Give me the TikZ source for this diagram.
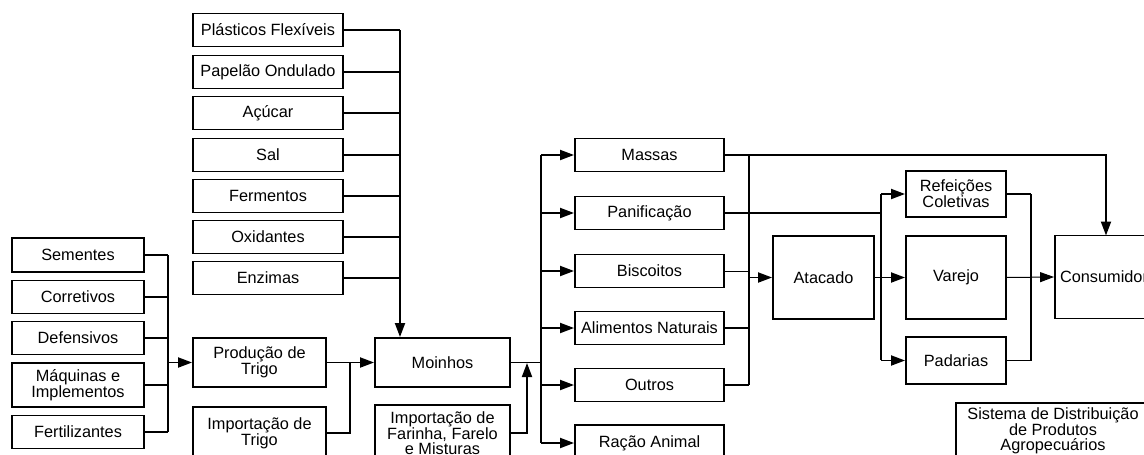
\documentclass[tikz,border=0pt]{standalone}
\usepackage{fontspec}
\setmainfont{Liberation Sans}
\usetikzlibrary{arrows.meta}
\begin{document}
\begin{tikzpicture}[x=1pt,y=-1pt,
  box/.style={draw,line width=1.9pt,rectangle,align=center,inner sep=1pt,
    font=\fontsize{16.3}{14.8}\selectfont},
  ln/.style={line width=1.9pt},
  thinln/.style={line width=1pt},
  arr/.style={-{Triangle[length=14pt,width=10pt]}}]
\useasboundingbox (0,0) rectangle (1144,455);
\clip (0,0) rectangle (1144,455);
% left column
\node[box,minimum width=132pt,minimum height=34pt] (sem) at (78,255) {Sementes};
\node[box,minimum width=132pt,minimum height=33pt] (cor) at (78,297) {Corretivos};
\node[box,minimum width=132pt,minimum height=33pt] (def) at (78,338) {Defensivos};
\node[box,minimum width=132pt,minimum height=44pt] (maq) at (78,385) {Máquinas e\\Implementos};
\node[box,minimum width=132pt,minimum height=33pt] (fer) at (78,432) {Fertilizantes};
% production
\node[box,minimum width=133pt,minimum height=49pt] (prod) at (259.5,362.5) {Produção de\\Trigo};
\node[box,minimum width=133pt,minimum height=52pt] (impT) at (259.5,433) {Importação de\\Trigo};
% top column
\node[box,minimum width=150pt,minimum height=33pt] (pla) at (268,30) {Plásticos Flexíveis};
\node[box,minimum width=150pt,minimum height=33pt] (pap) at (268,72) {Papelão Ondulado};
\node[box,minimum width=150pt,minimum height=33pt] (acu) at (268,113) {Açúcar};
\node[box,minimum width=150pt,minimum height=33pt] (sal) at (268,155) {Sal};
\node[box,minimum width=150pt,minimum height=33pt] (fem) at (268,196) {Fermentos};
\node[box,minimum width=150pt,minimum height=33pt] (oxi) at (268,237) {Oxidantes};
\node[box,minimum width=150pt,minimum height=33pt] (enz) at (268,278) {Enzimas};
% mills
\node[box,minimum width=135pt,minimum height=49pt] (moi) at (442.5,362.5) {Moinhos};
\node[box,minimum width=135pt,minimum height=56pt] (impF) at (442.5,433) {Importação de\\Farinha, Farelo\\e Misturas};
% products
\node[box,minimum width=149pt,minimum height=33pt] (mas) at (649.5,155) {Massas};
\node[box,minimum width=149pt,minimum height=33pt] (pan) at (649.5,213) {Panificação};
\node[box,minimum width=149pt,minimum height=33pt] (bis) at (649.5,271) {Biscoitos};
\node[box,minimum width=149pt,minimum height=33pt] (ali) at (649.5,328) {Alimentos Naturais};
\node[box,minimum width=149pt,minimum height=33pt] (out) at (649.5,385) {Outros};
\node[box,minimum width=149pt,minimum height=36pt] (rac) at (649.5,443) {Ração Animal};
% distribution
\node[box,minimum width=101pt,minimum height=83pt] (ata) at (823.5,277.5) {Atacado};
\node[box,minimum width=100pt,minimum height=46pt] (ref) at (956,194) {Refeições\\Coletivas};
\node[box,minimum width=100pt,minimum height=83pt] (var) at (956,277.5) {Varejo};
\node[box,minimum width=100pt,minimum height=47pt] (pad) at (956,360.5) {Padarias};
\node[box,minimum width=98pt,minimum height=83pt] (con) at (1104,277) {Consumidor};
\node[box,minimum width=194pt,minimum height=56pt] (sis) at (1053,431) {Sistema de Distribuição\\de Produtos\\Agropecuários};
% bus coordinates
\coordinate (b1t) at (168,255); \coordinate (b1b) at (168,432);
\coordinate (b2) at (350,363);
\coordinate (b3) at (400,30);
\coordinate (b4) at (527,363);
\coordinate (b5t) at (541,155); \coordinate (b5b) at (541,443);
\coordinate (b6t) at (749,155); \coordinate (b6b) at (749,385);
\coordinate (b7t) at (881,194); \coordinate (b7b) at (881,360);
\coordinate (b8t) at (1031,194); \coordinate (b8b) at (1031,360);
\coordinate (c1) at (1106,235.5);
% left bus
\foreach \n in {sem,cor,def,maq,fer} \draw[ln] (\n.east) -- (\n.east -| b1t);
\draw[ln] (b1t) -- (b1b);
\draw[ln,arr] (prod.west -| b1t) -- (prod.west);
% production to mills
\draw[ln,arr] (prod.east) -- (moi.west);
\draw[ln] (impT.east) -| (b2);
% top bus
\foreach \n in {pla,pap,acu,sal,fem,oxi,enz} \draw[ln] (\n.east) -- (\n.east -| b3);
\draw[ln,arr] (b3) -- (b3 |- moi.north);
% flour import
\draw[ln,arr] (impF.east) -| (b4);
% mills to products
\draw[ln] (moi.east) -- (moi.east -| b5t);
\draw[ln] (b5t) -- (b5b);
\foreach \n in {mas,pan,bis,ali,out,rac} \draw[ln,arr] (\n.west -| b5t) -- (\n.west);
% products to distribution
\draw[ln,arr] (mas.east) -| (c1);
\draw[ln] (b6t) -- (b6b);
\draw[thinln] (bis.east) -- (bis.east -| b6t);
\draw[ln] (ali.east) -- (ali.east -| b6t);
\draw[ln] (out.east) -- (out.east -| b6t);
\draw[ln,arr] (ata.west -| b6t) -- (ata.west);
\draw[ln] (pan.east) -- (pan.east -| b7t);
\draw[ln] (b7t) -- (b7b);
\draw[ln] (ata.east) -- (ata.east -| b7t);
\foreach \n in {ref,var,pad} \draw[ln,arr] (\n.west -| b7t) -- (\n.west);
\draw[ln] (ref.east) -| (b8t);
\draw[ln] (pad.east) -| (b8b);
\draw[ln] (b8t) -- (b8b);
\draw[thinln,arr] (var.east) -- (con.west);
\end{tikzpicture}
\end{document}
